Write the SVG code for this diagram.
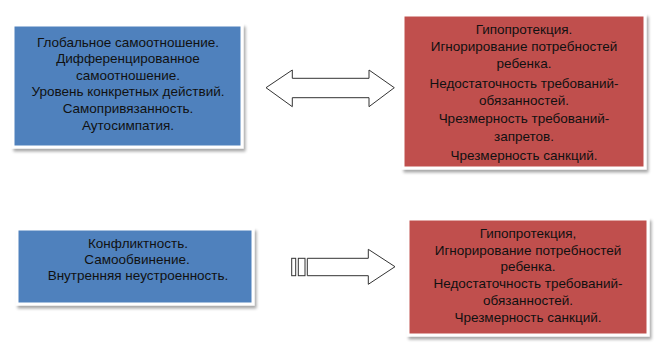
<svg xmlns="http://www.w3.org/2000/svg" width="662" height="348" viewBox="0 0 662 348">
<defs>
<filter id="sh" x="-10%" y="-10%" width="130%" height="130%">
<feGaussianBlur in="SourceAlpha" stdDeviation="1.5"/>
<feOffset dx="2" dy="3" result="b"/>
<feComponentTransfer><feFuncA type="linear" slope="0.35"/></feComponentTransfer>
<feMerge><feMergeNode/><feMergeNode in="SourceGraphic"/></feMerge>
</filter>
<style>
.box{stroke:#ffffff;stroke-width:3;filter:url(#sh)}
.blue{fill:#4F81BD}
.red{fill:#C0504D}
text{font-family:"Liberation Sans",Arial,sans-serif;font-size:13.5px;fill:#111;text-anchor:middle}
.arr{fill:#fff;stroke:#333;stroke-width:1}
</style>
</defs>
<rect width="662" height="348" fill="#fff"/>
<g id="node-self-left">
<rect class="box blue" x="13" y="25" width="229" height="122"/>
<text x="128" y="46.5">Глобальное самоотношение.</text>
<text x="128" y="63">Дифференцированное</text>
<text x="128" y="79.5">самоотношение.</text>
<text x="128" y="96">Уровень конкретных действий.</text>
<text x="128" y="112.5">Самопривязанность.</text>
<text x="128" y="129.5">Аутосимпатия.</text>
</g>
<g id="node-parent-top">
<rect class="box red" x="403" y="15" width="242" height="153"/>
<text x="524" y="33.5">Гипопротекция.</text>
<text x="524" y="51">Игнорирование потребностей</text>
<text x="524" y="68">ребенка.</text>
<text x="524" y="87.5">Недостаточность требований-</text>
<text x="524" y="105">обязанностей.</text>
<text x="524" y="123">Чрезмерность требований-</text>
<text x="524" y="141">запретов.</text>
<text x="524" y="159.5">Чрезмерность санкций.</text>
</g>
<g id="node-self-bottom">
<rect class="box blue" x="17" y="229" width="236" height="75"/>
<text x="138" y="247.5">Конфликтность.</text>
<text x="137" y="263.5">Самообвинение.</text>
<text x="138" y="280">Внутренняя неустроенность.</text>
</g>
<g id="node-parent-bottom">
<rect class="box red" x="408" y="219" width="240" height="116"/>
<text x="528" y="238">Гипопротекция,</text>
<text x="528" y="254.5">Игнорирование потребностей</text>
<text x="528" y="271">ребенка.</text>
<text x="528" y="288">Недостаточность требований-</text>
<text x="528" y="304.5">обязанностей.</text>
<text x="528" y="321.5">Чрезмерность санкций.</text>
</g>
<g id="connectors">
<path class="arr" d="M266,87.7 L292.3,70 L292.3,78.3 L369,78.3 L369,70 L394.3,87.7 L369,106.7 L369,97.7 L292.3,97.7 L292.3,106.7 Z"/>
<rect class="arr" x="291.7" y="258.3" width="4" height="17.4"/>
<rect class="arr" x="298.3" y="258.3" width="6.7" height="17.4"/>
<path class="arr" d="M307.3,258.3 L368.3,258.3 L368.3,249.3 L395,266.7 L368.3,284.3 L368.3,275.7 L307.3,275.7 Z"/>
</g>
</svg>
